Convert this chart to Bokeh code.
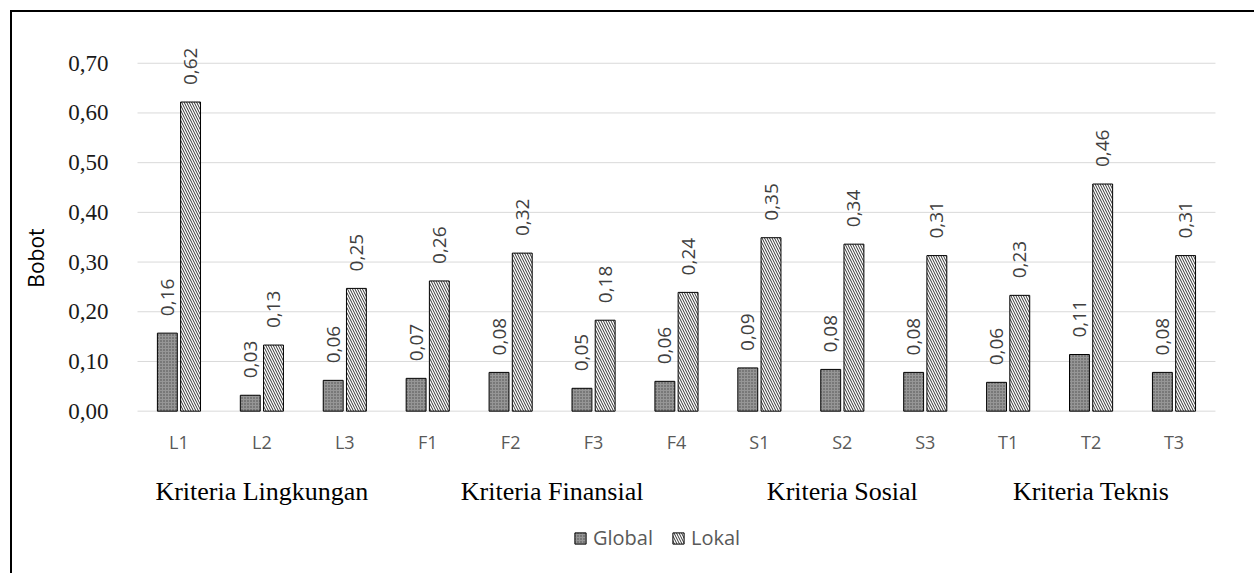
import math
from bokeh.plotting import figure
from bokeh.models import ColumnDataSource, Range1d, Legend, LegendItem
from bokeh.core.properties import value
from bokeh.embed import file_html
from bokeh.resources import INLINE

# ---- data ----
categories = ["L1", "L2", "L3", "F1", "F2", "F3", "F4", "S1", "S2", "S3", "T1", "T2", "T3"]
global_vals = [0.157, 0.032, 0.062, 0.066, 0.078, 0.046, 0.060, 0.087, 0.084, 0.078, 0.058, 0.114, 0.078]
lokal_vals = [0.622, 0.133, 0.247, 0.262, 0.318, 0.183, 0.239, 0.349, 0.336, 0.313, 0.233, 0.457, 0.313]
groups = ["Kriteria Lingkungan", "Kriteria Finansial", "Kriteria Sosial", "Kriteria Teknis"]
group_members = [["L1", "L2", "L3"], ["F1", "F2", "F3", "F4"], ["S1", "S2", "S3"], ["T1", "T2", "T3"]]
y_ticks = [0.0, 0.1, 0.2, 0.3, 0.4, 0.5, 0.6, 0.7]
series_names = ["Global", "Lokal"]
y_title = "Bobot"

idx = list(range(len(categories)))
off = 0.14
bw = 0.24
n = len(categories)

def fmt(v):
    return f"{v:.2f}".replace(".", ",")

src_g = ColumnDataSource(dict(x=[i - off for i in idx], top=global_vals,
                              lab=[fmt(v) for v in global_vals]))
src_l = ColumnDataSource(dict(x=[i + off for i in idx], top=lokal_vals,
                              lab=[fmt(v) for v in lokal_vals]))

# whole canvas is the frame; scales: 82.92 px per category, 497 px per unit
W, H = 1244, 563
px_x = 82.92
px_y = 497.0
x_start = -0.5 - 125 / px_x
x_end = x_start + W / px_x
y_top = 0.78 + 11 / px_y
y_bot = y_top - H / px_y

p = figure(width=W, height=H, output_backend="svg", toolbar_location=None,
           x_range=Range1d(x_start, x_end), y_range=Range1d(y_bot, y_top),
           min_border=0, x_axis_type=None, y_axis_type=None)
p.styles = {"margin-left": "10px", "margin-top": "10px",
            "border-left": "2px solid black", "border-top": "2px solid black"}
p.outline_line_color = None
p.background_fill_color = "white"
p.border_fill_color = "white"
p.grid.visible = False

# gridlines across the plot area
p.segment(x0=[-0.5] * len(y_ticks), x1=[n - 0.5] * len(y_ticks), y0=y_ticks, y1=y_ticks,
          line_color="#d9d9d9", line_width=1)

# y tick labels
ytl = ColumnDataSource(dict(x=[-0.5] * len(y_ticks), y=y_ticks, t=[fmt(v) for v in y_ticks]))
p.text(x="x", y="y", text="t", source=ytl, x_offset=-29, text_align="right",
       text_baseline="middle", text_font=value("Liberation Serif"), text_font_size="23px",
       text_color="#1a1a1a")

# y title
p.text(x=[-0.5 - 102 / px_x], y=[0.308], text=[y_title], angle=math.pi / 2,
       text_align="center", text_baseline="middle", text_font=value("Open Sans"),
       text_font_size="21px", text_color="black")

r1 = p.vbar(x="x", top="top", bottom=0, width=bw, source=src_g, fill_color="#969696",
            hatch_pattern="dot", hatch_color="#4a4a4a", hatch_scale=3, hatch_weight=1,
            line_color="black", line_width=1)
r2 = p.vbar(x="x", top="top", bottom=0, width=bw, source=src_l, fill_color="white",
            hatch_pattern="\\", hatch_color="#333333", hatch_scale=5, hatch_weight=1,
            line_color="black", line_width=1)

for src in (src_g, src_l):
    p.text(x="x", y="top", text="lab", source=src, angle=math.pi / 2,
           text_align="left", text_baseline="middle", y_offset=-17,
           text_font=value("Open Sans"), text_font_size="19px", text_color="#404040")

# category labels
cat_src = ColumnDataSource(dict(x=idx, y=[-0.0624] * n, t=categories))
p.text(x="x", y="y", text="t", source=cat_src, text_align="center", text_baseline="middle",
       text_font=value("Open Sans"), text_font_size="18px", text_color="#595959")

# group labels
gx = []
for members in group_members:
    ids = [categories.index(m) for m in members]
    gx.append((min(ids) + max(ids)) / 2)
grp_src = ColumnDataSource(dict(x=gx, y=[-0.162] * len(gx), t=groups))
p.text(x="x", y="y", text="t", source=grp_src, text_align="center", text_baseline="alphabetic",
       text_font=value("Liberation Serif"), text_font_size="26px", text_color="black")

legend = Legend(items=[LegendItem(label=series_names[0], renderers=[r1]),
                       LegendItem(label=series_names[1], renderers=[r2])],
                orientation="horizontal", location=(561, 24))
legend.border_line_color = None
legend.background_fill_alpha = 0
legend.padding = 0
legend.margin = 0
legend.glyph_width = 14
legend.glyph_height = 14
legend.label_standoff = 6
legend.spacing = 18
legend.label_text_font = "Open Sans"
legend.label_text_font_size = "20px"
legend.label_text_color = "#595959"
p.add_layout(legend)

open("out.html", "w").write(file_html(p, INLINE))
